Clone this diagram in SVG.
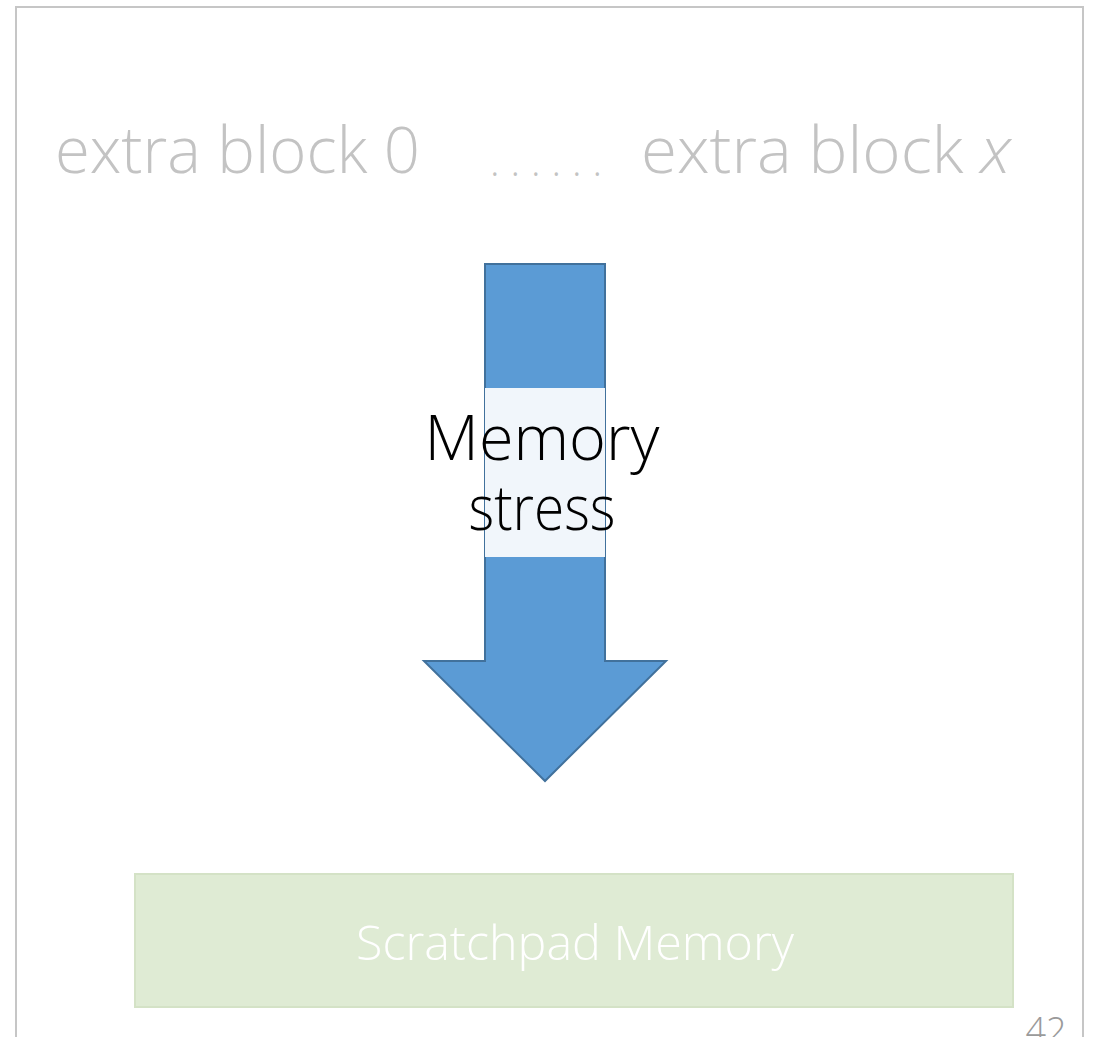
<svg xmlns="http://www.w3.org/2000/svg" width="1099" height="1037" viewBox="0 0 1099 1037">
<style>
.lt{font-family:"Open Sans","Noto Sans","Liberation Sans",sans-serif;font-weight:300}
.gray{fill:#c3c3c3}
</style>
<rect width="1099" height="1037" fill="#ffffff"/>
<g id="frame">
<path d="M16,1040 V7 H1083 V1040" fill="none" stroke="#c6c6c6" stroke-width="2"/>
</g>
<g id="extra-block-0">
<text class="lt gray" x="55" y="173" font-size="64" textLength="365" lengthAdjust="spacingAndGlyphs">extra block 0</text>
</g>
<g id="dots">
<text class="lt gray" x="490" y="176" font-size="40" textLength="112" lengthAdjust="spacing">......</text>
</g>
<g id="extra-block-x">
<text class="lt gray" x="641" y="173" font-size="64" textLength="370" lengthAdjust="spacingAndGlyphs">extra block <tspan font-style="italic">x</tspan></text>
</g>
<g id="connectors">
<g id="memory-stress-arrow">
<path d="M485,264 H605 V661 H666 L545,781 L424,661 H485 Z" fill="#5b9bd5" stroke="#41719c" stroke-width="2"/>
<rect x="485" y="388" width="120" height="169" fill="#f1f6fb"/>
<text class="lt" x="542" y="460" font-size="62" text-anchor="middle" fill="#000000" textLength="235" lengthAdjust="spacingAndGlyphs">Memory</text>
<text class="lt" x="542" y="530" font-size="62" text-anchor="middle" fill="#000000" textLength="147" lengthAdjust="spacingAndGlyphs">stress</text>
</g>
</g>
<g id="scratchpad-memory">
<rect x="135" y="874" width="878" height="133" fill="#dfebd4" stroke="#d4e2c6" stroke-width="2"/>
<text class="lt" x="575" y="960" font-size="48" text-anchor="middle" fill="#ffffff" textLength="438" lengthAdjust="spacingAndGlyphs">Scratchpad Memory</text>
</g>
<g id="page-number">
<text class="lt" x="1046" y="1043" font-size="36" text-anchor="middle" fill="#9a9a9a">42</text>
</g>
</svg>
